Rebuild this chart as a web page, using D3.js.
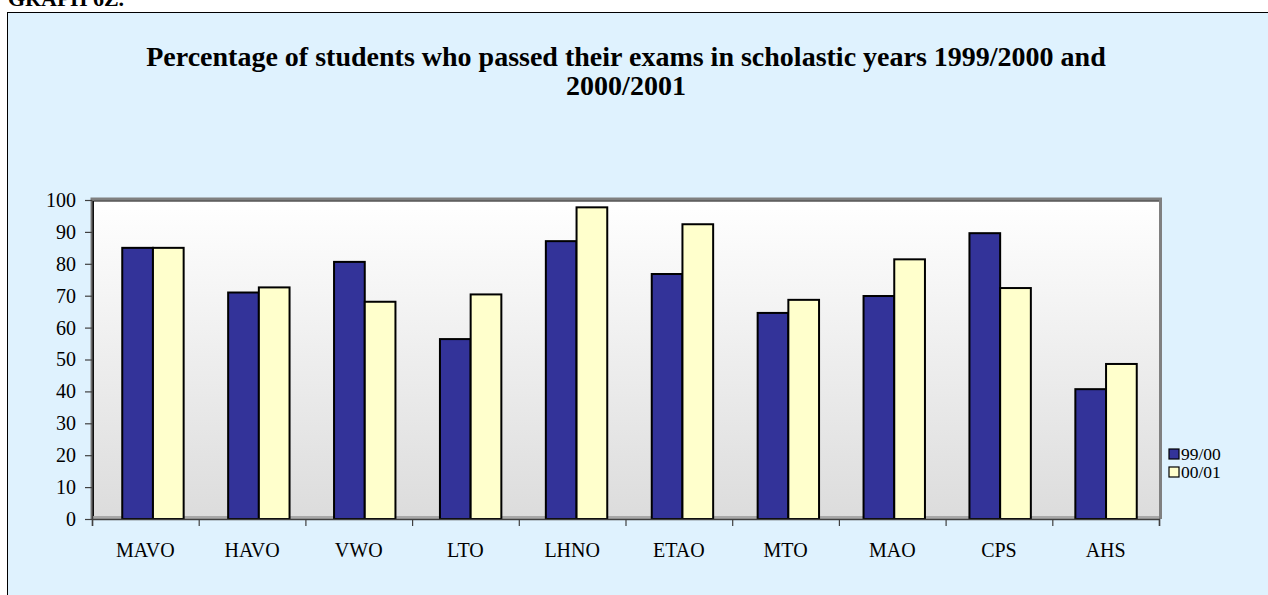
<!DOCTYPE html>
<html>
<head>
<meta charset="utf-8">
<script src="https://cdn.jsdelivr.net/npm/d3@7"></script>
<style>
  html, body { margin: 0; padding: 0; background: #ffffff; }
  svg { display: block; }
  text { font-family: "Liberation Serif", "Times New Roman", serif; fill: #000; }
</style>
</head>
<body>
<svg id="chart" width="1268" height="595"></svg>
<script>
const categories = ["MAVO", "HAVO", "VWO", "LTO", "LHNO", "ETAO", "MTO", "MAO", "CPS", "AHS"];
const seriesNames = ["99/00", "00/01"];
const values9900 = [85, 71, 80.6, 56.4, 87.1, 76.8, 64.6, 69.9, 89.6, 40.7];
const values0001 = [85, 72.6, 68.1, 70.4, 97.7, 92.4, 68.7, 81.4, 72.4, 48.6];
const yTicks = [0, 10, 20, 30, 40, 50, 60, 70, 80, 90, 100];
const titleLines = ["Percentage of students who passed their exams in scholastic years 1999/2000 and", "2000/2001"];
const headerText = "GRAPH 6Z.";

(function () {
const FONT = "'Liberation Serif', 'Times New Roman', serif";
const colors = ["#333399", "#ffffcc"];
const series = [values9900, values0001];

const svg = d3.select("#chart");

// header label (cut off at top)
svg.append("text").attr("x", 8).attr("y", 6)
  .style("font-family", FONT)
  .style("font-weight", "bold").style("font-size", "22px").text(headerText);

// container
svg.append("rect").attr("x", 7.5).attr("y", 12.5).attr("width", 1268).attr("height", 600)
  .attr("fill", "#dff2fe").attr("stroke", "#000").attr("stroke-width", 1);

// title
const title = svg.append("text").attr("text-anchor", "middle")
  .style("font-family", FONT)
  .style("font-weight", "bold").style("font-size", "28px");
titleLines.forEach((t, i) => {
  title.append("tspan").attr("x", 626).attr("y", 66 + i * 29).text(t);
});

// plot area
const pL = 92, pR = 1159, pT = 200, pB = 519;
const defs = svg.append("defs");
const grad = defs.append("linearGradient").attr("id", "bg").attr("x1", 0).attr("y1", 0).attr("x2", 0).attr("y2", 1);
grad.append("stop").attr("offset", "0%").attr("stop-color", "#ffffff");
grad.append("stop").attr("offset", "100%").attr("stop-color", "#dcdcdc");

svg.append("rect").attr("x", pL).attr("y", pT).attr("width", pR - pL).attr("height", pB - pT)
  .attr("fill", "url(#bg)");
// 3D-ish frame edges
svg.append("path").attr("d", `M${pL},${pB} V${pT - 1} H${pR + 1.5} V${pB}`)
  .attr("fill", "none").attr("stroke", "#808080").attr("stroke-width", 3);
svg.append("path").attr("d", `M${pL + 1.5},${pB} V${pT + 1} H${pR}`)
  .attr("fill", "none").attr("stroke", "#000").attr("stroke-width", 1);
svg.append("rect").attr("x", pL).attr("y", pB - 3).attr("width", pR - pL).attr("height", 3)
  .attr("fill", "#a8a8a8");

const y = d3.scaleLinear().domain([0, 100]).range([pB, pT]);
const xAxisScale = d3.scaleBand().domain(categories).range([pL, pR]);
const xBars = d3.scaleBand().domain(categories).range([pL + 8, pR]);
const barW = 30.7;

// bars
series.forEach((vals, s) => {
  svg.append("g").selectAll("rect").data(categories).join("rect")
    .attr("x", d => xBars(d) + xBars.bandwidth() / 2 - barW + s * barW)
    .attr("y", (d, i) => y(vals[i]))
    .attr("width", barW)
    .attr("height", (d, i) => pB - y(vals[i]))
    .attr("fill", colors[s])
    .attr("stroke", "#000").attr("stroke-width", 2);
});

// y axis
const yAxis = svg.append("g").attr("transform", `translate(${pL},0)`)
  .call(d3.axisLeft(y).tickValues(yTicks).tickSize(7).tickPadding(9).tickSizeOuter(0));
yAxis.attr("font-family", null);
yAxis.select(".domain").attr("stroke", "#404040").attr("stroke-width", 1.5);
yAxis.selectAll(".tick line").attr("stroke", "#404040").attr("stroke-width", 1.2);
yAxis.selectAll("text").style("font-size", "20px").style("font-family", FONT).attr("fill", "#000");

// x axis: boundary ticks
const xLin = d3.scaleLinear().domain([0, categories.length]).range([pL, pR]);
const xAxis = svg.append("g").attr("transform", `translate(0,${pB})`)
  .call(d3.axisBottom(xLin).tickValues(d3.range(0, categories.length + 1)).tickSize(7).tickFormat(""));
xAxis.select(".domain").attr("stroke", "#404040").attr("stroke-width", 1.5);
xAxis.selectAll(".tick line").attr("stroke", "#404040").attr("stroke-width", 1.2);

// category labels
svg.append("g").selectAll("text").data(categories).join("text")
  .attr("x", d => xAxisScale(d) + xAxisScale.bandwidth() / 2)
  .attr("y", 557)
  .attr("text-anchor", "middle")
  .style("font-family", FONT)
  .style("font-size", "20px")
  .text(d => d);

// legend
const lg = svg.append("g");
seriesNames.forEach((n, i) => {
  lg.append("rect").attr("x", 1169).attr("y", 449 + i * 18).attr("width", 10).attr("height", 10)
    .attr("fill", colors[i]).attr("stroke", "#000").attr("stroke-width", 1.2);
  lg.append("text").attr("x", 1181).attr("y", 460 + i * 18)
    .style("font-family", FONT).style("font-size", "17.5px").text(n);
});
})();
</script>
</body>
</html>
